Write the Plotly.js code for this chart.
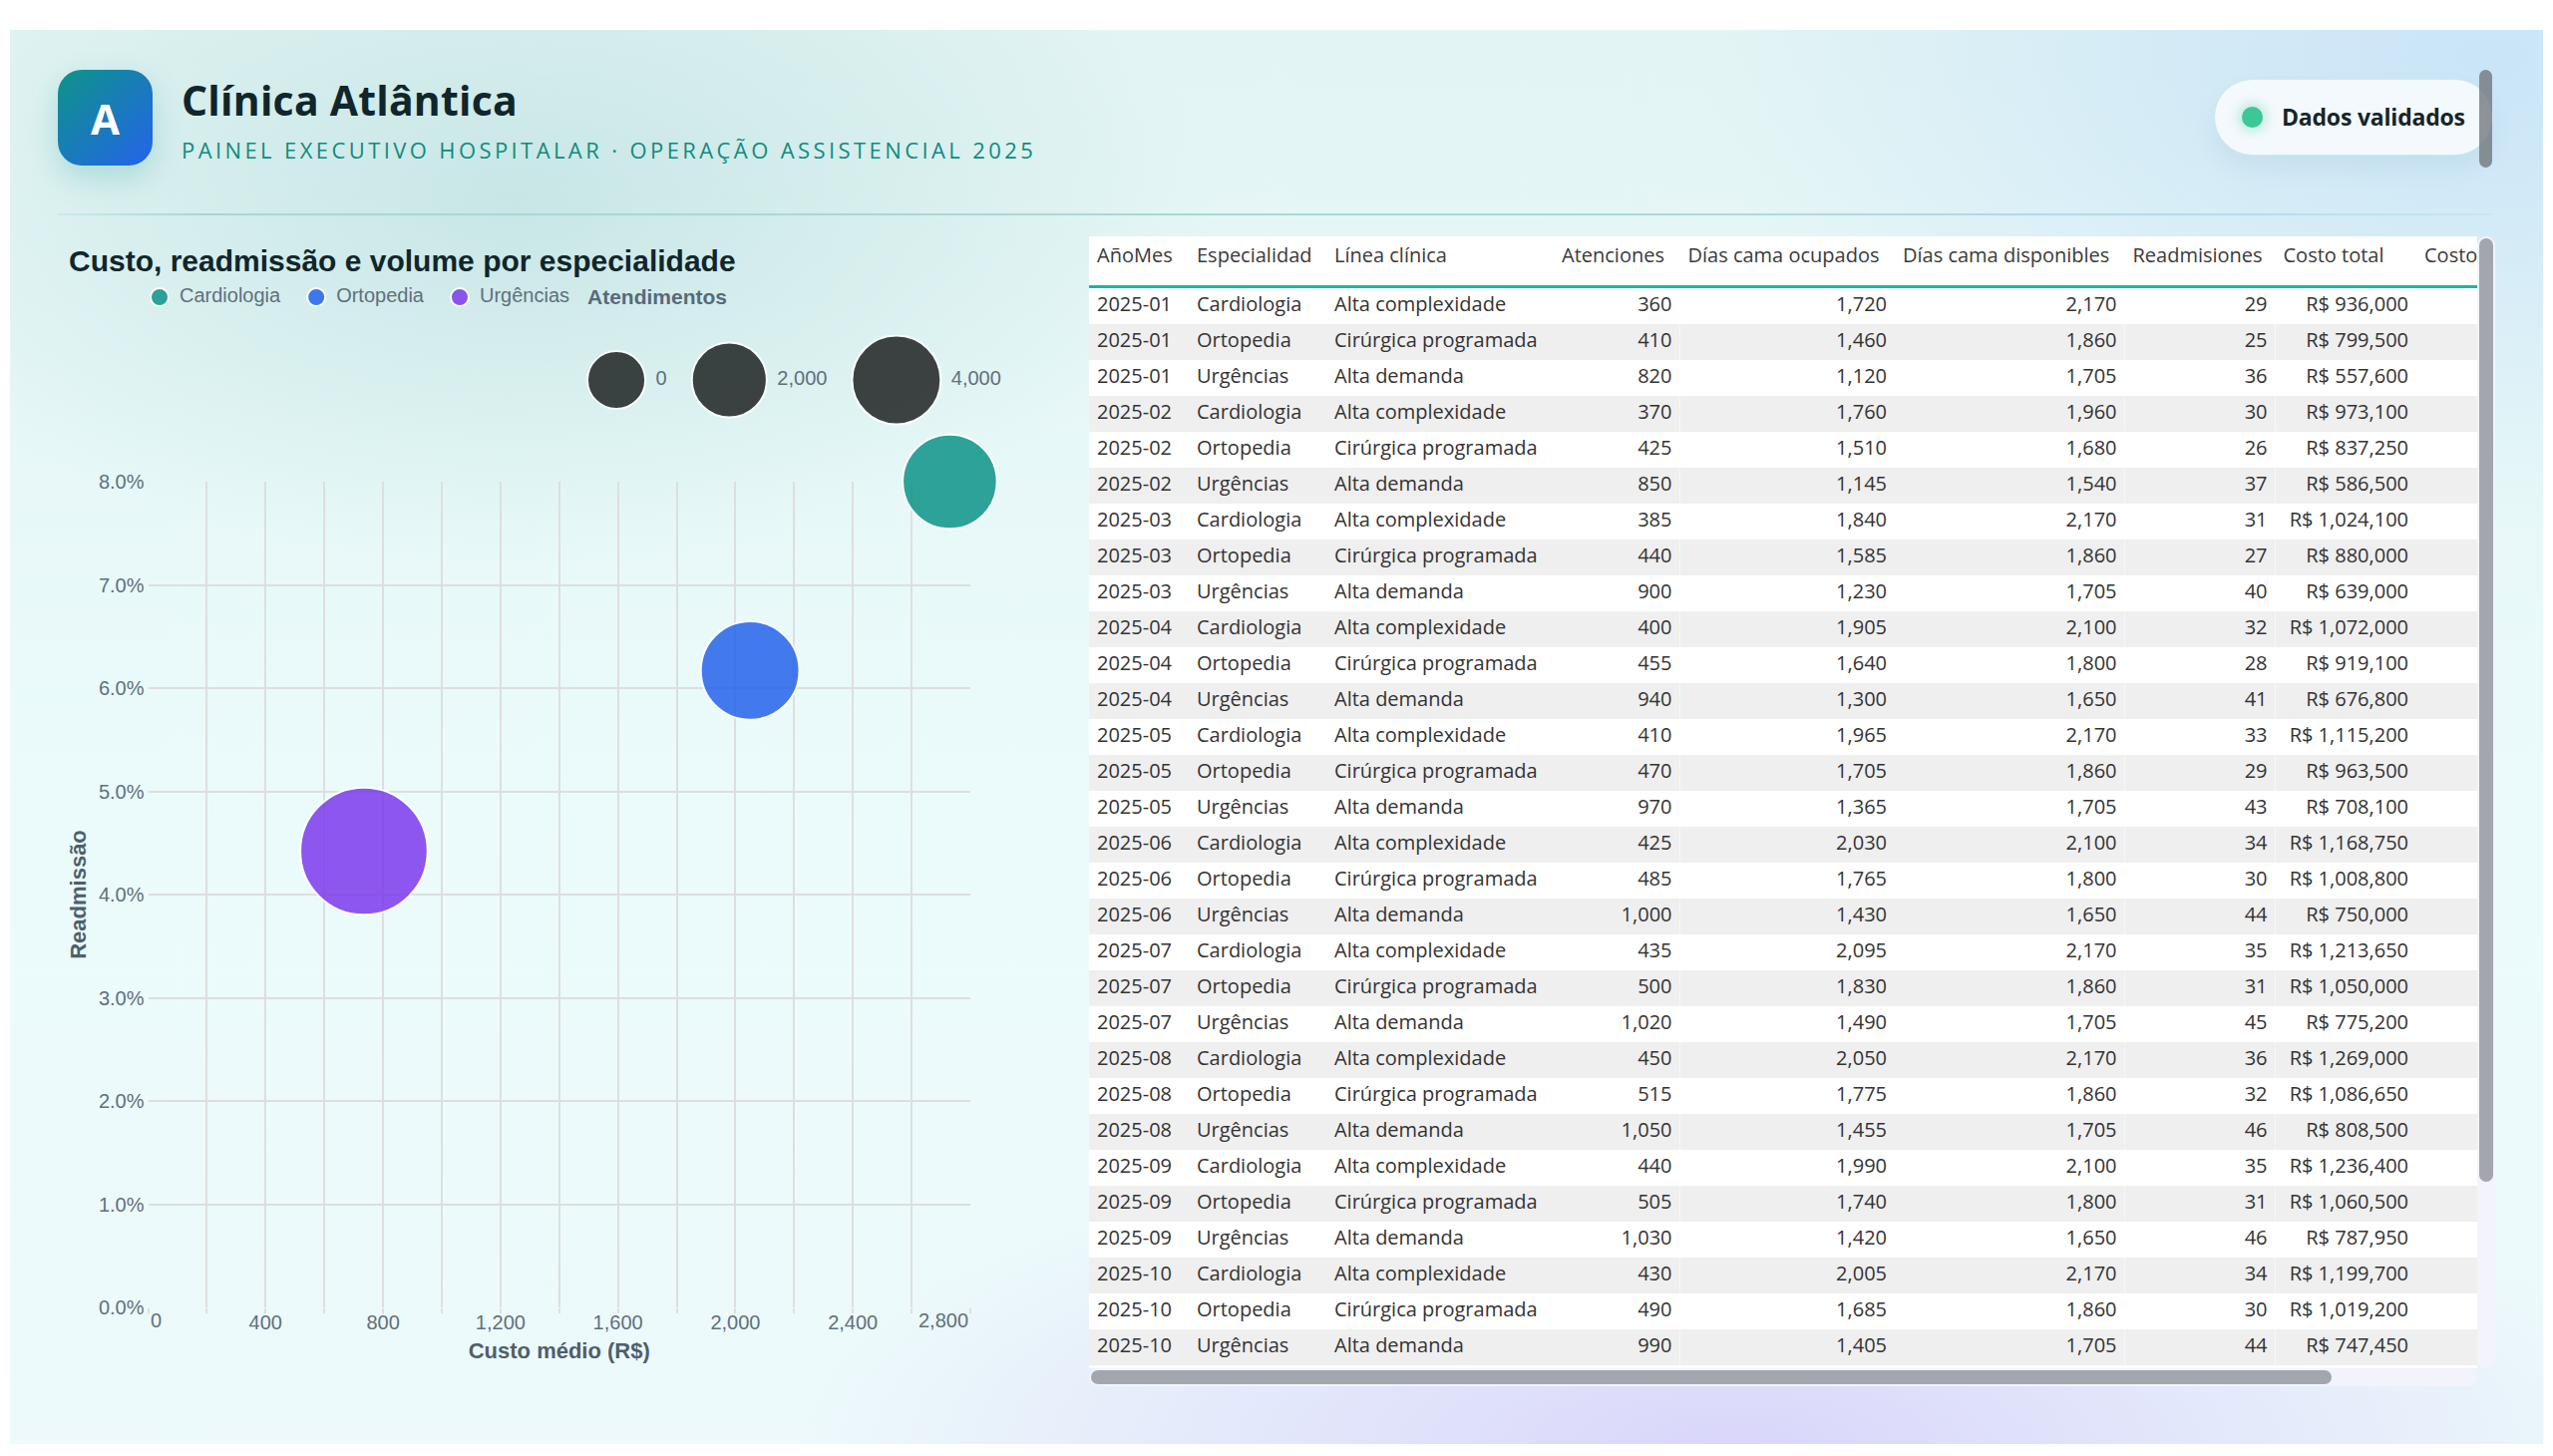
<!DOCTYPE html>
<html>
<head>
<meta charset="utf-8">
<script src="https://cdn.plot.ly/plotly-3.0.1.min.js"></script>
<style>
html,body{margin:0;padding:0;background:#ffffff;width:2560px;height:1460px;overflow:hidden;}
#panel{position:absolute;left:10px;top:30px;width:2540px;height:1418px;
 background:
  radial-gradient(ellipse 1000px 520px at 20% 12%, rgba(190,225,224,0.75), rgba(190,225,224,0) 70%),
  radial-gradient(ellipse 1100px 650px at 98% 2%, rgba(200,228,248,0.95), rgba(200,228,248,0) 72%),
  radial-gradient(ellipse 1300px 420px at 68% 100%, rgba(216,212,250,0.95), rgba(216,212,250,0) 72%),
  linear-gradient(180deg,#e3f4f4 0%,#ebfbfb 55%,#edf9fb 100%);}
#logo{position:absolute;left:58px;top:70px;width:95px;height:96px;border-radius:24px;
 background:linear-gradient(135deg,#0d9488 0%,#2563eb 100%);
 box-shadow:0 12px 30px rgba(13,148,136,0.22);
 color:#fff;font-family:"Open Sans",sans-serif;font-weight:700;font-size:42px;
 display:flex;align-items:center;justify-content:center;}
#brand{position:absolute;left:182px;top:80px;font-family:"Open Sans",sans-serif;font-weight:700;
 font-size:41px;line-height:1;color:#10262b;white-space:nowrap;letter-spacing:0.2px;}
#sub{position:absolute;left:182px;top:139px;font-family:"Open Sans",sans-serif;font-weight:500;
 font-size:22px;line-height:1;color:#0f8b7f;white-space:nowrap;letter-spacing:3.4px;}
#hline{position:absolute;left:58px;top:214px;width:2442px;height:2px;
 background:linear-gradient(90deg,rgba(150,210,205,0.2) 0%,#a6d8d4 6%,#a9d9d8 60%,#b4dceb 90%,rgba(180,220,235,0.3) 100%);}
#pill{position:absolute;left:2220px;top:79px;width:280px;height:77px;border-radius:39px;box-sizing:border-box;
 background:#f4f9fd;border:1.5px solid #cfe9e6;box-shadow:0 12px 24px rgba(30,80,120,0.07);}
#dot{position:absolute;left:27px;top:27px;width:21px;height:21px;border-radius:50%;background:#3cc896;
 box-shadow:0 0 12px 3px rgba(60,200,150,0.35);}
#pilltxt{position:absolute;left:67px;top:0;height:74px;display:flex;align-items:center;
 font-family:"Open Sans",sans-serif;font-weight:700;font-size:23px;color:#12262b;white-space:nowrap;letter-spacing:-0.2px;}
#hbar{position:absolute;left:2486px;top:70px;width:13px;height:98px;border-radius:7px;background:rgba(110,116,122,0.78);}
#chart{position:absolute;left:0;top:0;width:1080px;height:1460px;}
#tablewrap{position:absolute;left:1092px;top:237px;width:1392px;height:1135px;overflow:hidden;background:#ffffff;}
#table{position:absolute;left:0;top:0;width:1392px;height:1135px;}
#teal{position:absolute;left:0;top:49px;width:1392px;height:3px;background:#14b8a6;}
.sbtrack{position:absolute;background:#f3f3fb;border-radius:9px;}
.sbthumb{position:absolute;background:#a2a6ae;border-radius:7px;}
</style>
</head>
<body>
<div id="panel"></div>
<div id="logo">A</div>
<div id="brand">Clínica Atlântica</div>
<div id="sub">PAINEL EXECUTIVO HOSPITALAR · OPERAÇÃO ASSISTENCIAL 2025</div>
<div id="hline"></div>
<div id="pill"><div id="dot"></div><div id="pilltxt">Dados validados</div></div>
<div id="hbar"></div>
<div id="chart"></div>
<div id="tablewrap"><div id="table"></div><div id="teal"></div></div>
<div class="sbtrack" style="left:2484px;top:237px;width:18px;height:1135px;"></div>
<div class="sbthumb" style="left:2486px;top:239px;width:14px;height:946px;"></div>
<div class="sbtrack" style="left:1092px;top:1372px;width:1392px;height:18px;"></div>
<div class="sbthumb" style="left:1094px;top:1374px;width:1244px;height:14px;"></div>

<script>
// ---------------- Bubble chart data ----------------
const especialidades = ['Cardiologia', 'Ortopedia', 'Urgências'];
const custoMedio = [2730, 2050, 735];
const readmissao = [0.0800, 0.0617, 0.0442];
const atendimentos = [4930, 5650, 11470];
const legendaTamanhos = [0, 2000, 4000];
const xTickVals = [0, 400, 800, 1200, 1600, 2000, 2400, 2800];

// ---------------- Table data ----------------
const tabelaCabecalho = ['AñoMes', 'Especialidad', 'Línea clínica', 'Atenciones', 'Días cama ocupados',
  'Días cama disponibles', 'Readmisiones', 'Costo total', 'Costo'];
const anoMes = ['2025-01','2025-01','2025-01','2025-02','2025-02','2025-02','2025-03','2025-03','2025-03',
  '2025-04','2025-04','2025-04','2025-05','2025-05','2025-05','2025-06','2025-06','2025-06',
  '2025-07','2025-07','2025-07','2025-08','2025-08','2025-08','2025-09','2025-09','2025-09',
  '2025-10','2025-10','2025-10'];
const especialidad = ['Cardiologia','Ortopedia','Urgências','Cardiologia','Ortopedia','Urgências',
  'Cardiologia','Ortopedia','Urgências','Cardiologia','Ortopedia','Urgências','Cardiologia','Ortopedia','Urgências',
  'Cardiologia','Ortopedia','Urgências','Cardiologia','Ortopedia','Urgências','Cardiologia','Ortopedia','Urgências',
  'Cardiologia','Ortopedia','Urgências','Cardiologia','Ortopedia','Urgências'];
const lineaClinica = ['Alta complexidade','Cirúrgica programada','Alta demanda','Alta complexidade','Cirúrgica programada','Alta demanda',
  'Alta complexidade','Cirúrgica programada','Alta demanda','Alta complexidade','Cirúrgica programada','Alta demanda',
  'Alta complexidade','Cirúrgica programada','Alta demanda','Alta complexidade','Cirúrgica programada','Alta demanda',
  'Alta complexidade','Cirúrgica programada','Alta demanda','Alta complexidade','Cirúrgica programada','Alta demanda',
  'Alta complexidade','Cirúrgica programada','Alta demanda','Alta complexidade','Cirúrgica programada','Alta demanda'];
const atenciones = [360,410,820, 370,425,850, 385,440,900, 400,455,940, 410,470,970,
  425,485,1000, 435,500,1020, 450,515,1050, 440,505,1030, 430,490,990];
const diasOcupados = [1720,1460,1120, 1760,1510,1145, 1840,1585,1230, 1905,1640,1300, 1965,1705,1365,
  2030,1765,1430, 2095,1830,1490, 2050,1775,1455, 1990,1740,1420, 2005,1685,1405];
const diasDisponibles = [2170,1860,1705, 1960,1680,1540, 2170,1860,1705, 2100,1800,1650, 2170,1860,1705,
  2100,1800,1650, 2170,1860,1705, 2170,1860,1705, 2100,1800,1650, 2170,1860,1705];
const readmisiones = [29,25,36, 30,26,37, 31,27,40, 32,28,41, 33,29,43, 34,30,44, 35,31,45, 36,32,46, 35,31,46, 34,30,44];
const costoTotal = [936000,799500,557600, 973100,837250,586500, 1024100,880000,639000, 1072000,919100,676800,
  1115200,963500,708100, 1168750,1008800,750000, 1213650,1050000,775200, 1269000,1086650,808500,
  1236400,1060500,787950, 1199700,1019200,747450];

// ---------------- Styles ----------------
const cores = ['#0d9488', '#2563eb', '#7c3aed'];
const W = 1080, H = 1460;
const plotL = 148.5, plotR = 973, plotT = 483, plotB = 1311;
const gridColor = '#dedede';
const labelColor = '#5f707d';
const titleColor = '#4d5f6c';
const FONT = 'Liberation Sans, Arial, sans-serif';

function fillR(v) { return Math.sqrt(787 + 0.2752 * v); }
function markerSize(v) { return 2 * fillR(v) + 2; }
const fmt = v => v.toLocaleString('en-US');

const ctx = document.createElement('canvas').getContext('2d');
function textW(t, px, bold) { ctx.font = (bold ? 'bold ' : '') + px + 'px "Liberation Sans"'; return ctx.measureText(t).width; }

const traces = [];
especialidades.forEach((e, i) => {
  traces.push({
    type: 'scatter', mode: 'markers', x: [custoMedio[i]], y: [readmissao[i]], name: e,
    marker: { size: markerSize(atendimentos[i]), color: cores[i], opacity: 0.85, line: { color: '#ffffff', width: 2 } },
    cliponaxis: false, hoverinfo: 'skip', showlegend: false
  });
});

// colour legend (pixel-space overlay axes)
let cur = 150; const legY = 298;
const legSymX = [], legTxtX = [];
especialidades.forEach(e => {
  const cx = cur + 10; legSymX.push(cx); legTxtX.push(cx + 20);
  cur = cx + 20 + textW(e, 20) + 26;
});
traces.push({
  type: 'scatter', mode: 'markers', xaxis: 'x2', yaxis: 'y2', x: legSymX, y: legSymX.map(() => legY),
  marker: { size: 18, color: cores, opacity: 0.85, line: { color: '#ffffff', width: 2 } },
  hoverinfo: 'skip', showlegend: false, cliponaxis: false
});
traces.push({
  type: 'scatter', mode: 'text', xaxis: 'x2', yaxis: 'y2', x: legTxtX, y: legTxtX.map(() => legY),
  text: especialidades, textposition: 'middle right', textfont: { family: FONT, size: 20, color: labelColor },
  hoverinfo: 'skip', showlegend: false, cliponaxis: false
});

// size legend
let c2 = 588; const sizeY = 381;
const sizeX = [], sizeLabX = [];
legendaTamanhos.forEach(v => {
  const ro = fillR(v) + 2; const cx = c2 + ro; sizeX.push(cx);
  const lx = cx + ro + 9.5; sizeLabX.push(lx);
  c2 = lx + textW(fmt(v), 20) + 24;
});
traces.push({
  type: 'scatter', mode: 'markers', xaxis: 'x2', yaxis: 'y2', x: sizeX, y: sizeX.map(() => sizeY),
  marker: { size: legendaTamanhos.map(markerSize), color: 'rgb(31,35,35)', opacity: 0.85, line: { color: '#ffffff', width: 2 } },
  hoverinfo: 'skip', showlegend: false, cliponaxis: false
});
traces.push({
  type: 'scatter', mode: 'text', xaxis: 'x2', yaxis: 'y2', x: sizeLabX, y: sizeLabX.map(() => sizeY),
  text: legendaTamanhos.map(fmt), textposition: 'middle right', textfont: { family: FONT, size: 20, color: labelColor },
  hoverinfo: 'skip', showlegend: false, cliponaxis: false
});

const layout = {
  width: W, height: H, margin: { l: 0, r: 0, t: 0, b: 0 },
  paper_bgcolor: 'rgba(0,0,0,0)', plot_bgcolor: 'rgba(0,0,0,0)',
  font: { family: FONT, color: labelColor, size: 20 },
  showlegend: false, hovermode: false,
  title: {
    text: 'Custo, readmissão e volume por especialidade', x: 69 / W, xanchor: 'left', xref: 'container',
    y: 1 - 261 / H, yanchor: 'middle', yref: 'container',
    font: { family: FONT, size: 30, weight: 700, color: '#10262b' }
  },
  xaxis: {
    domain: [plotL / W, plotR / W], range: [0, 2800], anchor: 'y',
    tickmode: 'array', tickvals: xTickVals.slice(1, -1), ticktext: xTickVals.slice(1, -1).map(fmt),
    showgrid: true, gridcolor: gridColor, gridwidth: 2, zeroline: false, showline: false,
    ticks: 'outside', ticklen: 5, tickwidth: 2, tickcolor: gridColor, ticklabelstandoff: -8,
    tickfont: { family: FONT, size: 20, color: labelColor },
    minor: { tickmode: 'linear', tick0: 0, dtick: 200, showgrid: true, gridcolor: gridColor, gridwidth: 2, ticks: 'outside', ticklen: 5, tickwidth: 2, tickcolor: gridColor },
    title: { text: 'Custo médio (R$)', standoff: 10, font: { family: FONT, size: 22, weight: 700, color: titleColor } }
  },
  yaxis: {
    domain: [1 - plotB / H, 1 - plotT / H], range: [0, 0.08], anchor: 'x',
    tickmode: 'linear', tick0: 0, dtick: 0.01, tickformat: '.1%',
    showgrid: true, gridcolor: gridColor, gridwidth: 2, zeroline: false, showline: false,
    ticks: '', ticklabelstandoff: 3, tickfont: { family: FONT, size: 20, color: labelColor },
    title: { text: 'Readmissão', standoff: 6, font: { family: FONT, size: 22, weight: 700, color: titleColor } }
  },
  xaxis2: { domain: [0, 1], range: [0, W], anchor: 'y2', visible: false },
  yaxis2: { domain: [0, 1], range: [H, 0], anchor: 'x2', visible: false },
  annotations: [
    { xref: 'x', yref: 'y', x: xTickVals[0], y: 0, xanchor: 'left', yanchor: 'top', yshift: 0, showarrow: false,
      text: fmt(xTickVals[0]), font: { family: FONT, size: 20, color: labelColor } },
    { xref: 'x', yref: 'y', x: xTickVals[xTickVals.length - 1], y: 0, xanchor: 'right', yanchor: 'top', yshift: 0, showarrow: false,
      text: fmt(xTickVals[xTickVals.length - 1]), font: { family: FONT, size: 20, color: labelColor } },
    { xref: 'x2', yref: 'y2', x: 587, y: 297, xanchor: 'left', yanchor: 'middle', showarrow: false,
      text: 'Atendimentos', font: { family: FONT, size: 21, weight: 700, color: '#586a78' } }
  ]
};
Plotly.newPlot('chart', traces, layout, { displayModeBar: false, staticPlot: true });

// ---------------- Table ----------------
const colW = [100, 138, 228, 126.5, 215.5, 230.5, 151, 141.5, 61];
const tableH = 1135;
const rowFill = anoMes.map((_, i) => (i % 2 === 0 ? '#ffffff' : '#efefef'));
const tableTrace = {
  type: 'table', columnwidth: colW, domain: { x: [0, 1], y: [0, 1 - 3 / tableH] },
  header: {
    values: tabelaCabecalho, align: 'left', height: 49,
    fill: { color: '#ffffff' }, line: { width: 0, color: 'rgba(0,0,0,0)' },
    font: { family: 'Open Sans, sans-serif', size: 20, color: '#3a3a3a' }
  },
  cells: {
    values: [anoMes, especialidad, lineaClinica, atenciones, diasOcupados, diasDisponibles, readmisiones, costoTotal, anoMes.map(() => '')],
    align: ['left', 'left', 'left', 'right', 'right', 'right', 'right', 'right', 'right'],
    format: ['', '', '', ',d', ',d', ',d', 'd', ',d', ''],
    prefix: ['', '', '', '', '', '', '', 'R$ ', ''],
    height: 36,
    fill: { color: colW.map(() => rowFill) }, line: { width: 0, color: 'rgba(0,0,0,0)' },
    font: { family: 'Open Sans, sans-serif', size: 20, color: '#333333' }
  }
};
Plotly.newPlot('table', [tableTrace], {
  width: 1392, height: tableH, margin: { l: 0, r: 0, t: 0, b: 0 }, paper_bgcolor: '#ffffff'
}, { displayModeBar: false, staticPlot: true });
</script>
</body>
</html>
